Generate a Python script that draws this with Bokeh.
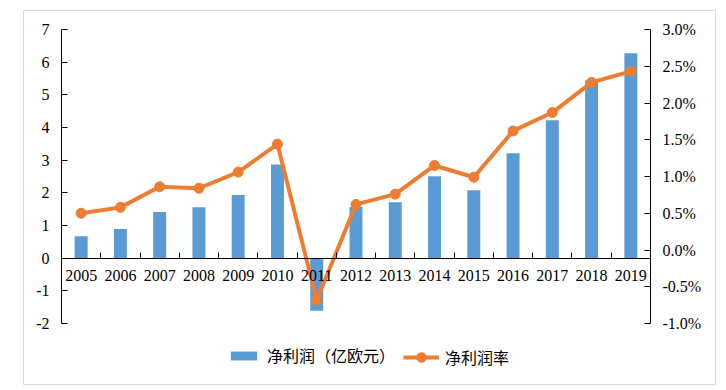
from bokeh.plotting import figure
from bokeh.models import (ColumnDataSource, Range1d, LinearAxis, FixedTicker,
                          CustomJSTickFormatter, PrintfTickFormatter, Legend, LegendItem)
from bokeh.embed import file_html
from bokeh.resources import INLINE

years = ["2005", "2006", "2007", "2008", "2009", "2010", "2011", "2012",
         "2013", "2014", "2015", "2016", "2017", "2018", "2019"]
net_profit = [0.67, 0.89, 1.41, 1.56, 1.93, 2.87, -1.61, 1.57,
              1.71, 2.51, 2.08, 3.21, 4.22, 5.44, 6.27]
margin_pct = [0.50, 0.58, 0.86, 0.84, 1.06, 1.44, -0.68, 0.62,
              0.76, 1.15, 0.99, 1.62, 1.87, 2.28, 2.43]
left_ticks = [-2, -1, 0, 1, 2, 3, 4, 5, 6, 7]
right_ticks = [-1.0, -0.5, 0.0, 0.5, 1.0, 1.5, 2.0, 2.5, 3.0]

BLUE = "#5B9BD5"
ORANGE = "#ED7D31"
SERIF = "Liberation Serif"
CJK = "Noto Sans CJK SC"

n = len(years)
xs = [i + 0.5 for i in range(n)]
src = ColumnDataSource(dict(x=xs, year=years, profit=net_profit, pct=margin_pct))

# frame = whole chart area (outline = light border); axes placed inside it
PX_X = 589.0 / n            # px per category
PX_L = 294.0 / (left_ticks[-1] - left_ticks[0])
PX_R = 294.0 / (right_ticks[-1] - right_ticks[0])
pad_l, pad_r, pad_t, pad_b = 38, 65, 19, 61

p = figure(width=718, height=386, output_backend="svg", toolbar_location=None,
           x_range=Range1d(-pad_l / PX_X, n + pad_r / PX_X),
           y_range=Range1d(left_ticks[0] - pad_b / PX_L, left_ticks[-1] + pad_t / PX_L),
           x_axis_location=None, y_axis_location=None,
           min_border_left=23, min_border_right=3, min_border_top=10, min_border_bottom=2)
p.outline_line_color = "#d9d9d9"
p.outline_line_width = 1
p.xgrid.visible = False
p.ygrid.visible = False
p.extra_y_ranges = {"pct": Range1d(right_ticks[0] - pad_b / PX_R, right_ticks[-1] + pad_t / PX_R)}


def style_axis(ax, tick_in=6):
    ax.major_tick_in = tick_in
    ax.major_tick_out = 0
    ax.minor_tick_line_color = None
    ax.axis_line_color = "black"
    ax.major_tick_line_color = "black"
    ax.major_label_text_font = SERIF
    ax.major_label_text_font_size = "16px"
    ax.major_label_text_color = "black"
    ax.major_label_standoff = 12


# left axis
ya = LinearAxis(fixed_location=0, bounds=(left_ticks[0], left_ticks[-1]),
                ticker=FixedTicker(ticks=left_ticks), formatter=PrintfTickFormatter(format="%d"))
style_axis(ya)
p.add_layout(ya, "left")

# right axis
ra = LinearAxis(fixed_location=n, y_range_name="pct", bounds=(right_ticks[0], right_ticks[-1]),
                ticker=FixedTicker(ticks=right_ticks), formatter=PrintfTickFormatter(format="%.1f%%"))
style_axis(ra)
p.add_layout(ra, "right")

# category axis at zero: boundary ticks
xa = LinearAxis(fixed_location=0, bounds=(0, n), ticker=FixedTicker(ticks=list(range(n + 1))))
style_axis(xa)
xa.major_label_text_alpha = 0
p.add_layout(xa, "below")

# category labels at centres
xl = LinearAxis(fixed_location=0, bounds=(0, n), ticker=FixedTicker(ticks=xs),
                formatter=CustomJSTickFormatter(args=dict(labels=years),
                                                code="return labels[Math.floor(tick)];"))
style_axis(xl)
xl.major_tick_line_color = None
xl.axis_line_color = None
p.add_layout(xl, "below")

bars = p.vbar(x="x", top="profit", bottom=0, width=0.33, source=src,
              fill_color=BLUE, line_color=None)
line = p.line(x="x", y="pct", source=src, y_range_name="pct",
              line_color=ORANGE, line_width=4)
pts = p.scatter(x="x", y="pct", source=src, y_range_name="pct", size=10,
                fill_color=ORANGE, line_color=ORANGE)

leg1 = Legend(items=[LegendItem(label="净利润（亿欧元）", renderers=[bars])],
              location=(204, 17), glyph_width=33, glyph_height=11,
              label_standoff=7, padding=0, margin=0,
              label_text_font=CJK, label_text_font_size="16px", label_text_color="black",
              background_fill_alpha=0, border_line_color=None)
leg2 = Legend(items=[LegendItem(label="净利润率", renderers=[line, pts])],
              location=(380, 15), glyph_width=36, glyph_height=24,
              label_standoff=6, padding=0, margin=0,
              label_text_font=CJK, label_text_font_size="16px", label_text_color="black",
              background_fill_alpha=0, border_line_color=None)
p.add_layout(leg1, "center")
p.add_layout(leg2, "center")

open("out.html", "w").write(file_html(p, INLINE))
